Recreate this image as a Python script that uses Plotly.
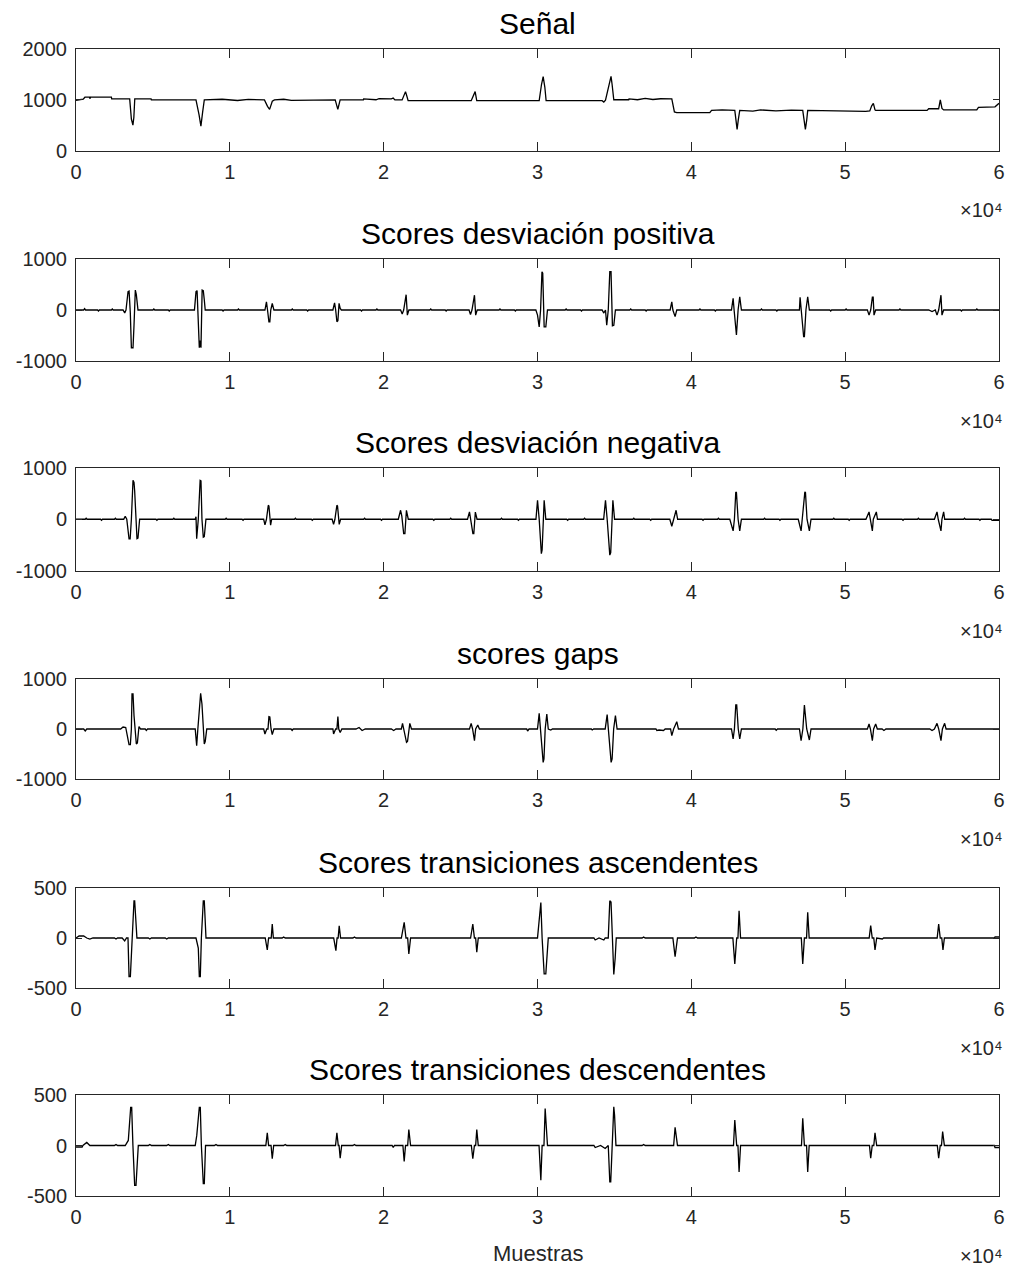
import plotly.graph_objects as go

# ---- data (sample index, value) ----
senal = [
    (0, 990), (470, 1010), (580, 1050), (880, 1050), (900, 1020), (950, 1050), (2300, 1050),
    (2320, 1016), (3490, 1016), (3600, 620), (3700, 500), (3760, 650), (3820, 1016),
    (4880, 1016), (4900, 996), (7800, 996), (8000, 700), (8120, 480), (8230, 750),
    (8340, 996), (9500, 1010), (10500, 985), (11200, 1008), (12250, 996), (12450, 870),
    (12585, 810), (12760, 970), (12900, 996), (13500, 1010), (14000, 986), (16850, 996),
    (17020, 810), (17170, 996), (18680, 996), (18700, 1016), (19500, 1000), (19700, 1020),
    (20500, 1016), (20620, 1035), (20730, 996), (21200, 996), (21330, 1100), (21420, 1160),
    (21500, 1080), (21590, 982), (25690, 982), (25840, 1100), (25946, 1160), (26050, 982),
    (30110, 982), (30260, 1300), (30368, 1457), (30476, 1250), (30560, 982), (34200, 982),
    (34312, 955), (34420, 990), (34700, 1350), (34780, 1460), (34850, 1300), (34959, 1000),
    (35930, 1000), (35950, 1016), (36500, 1000), (37000, 1025), (37500, 1005), (38000, 1020),
    (38730, 1016), (38900, 760), (39050, 745), (41200, 745), (41316, 790), (42000, 800),
    (42825, 790), (42900, 550), (42975, 415), (43050, 600), (43147, 790), (44000, 775),
    (44500, 800), (45500, 780), (46500, 795), (47242, 790), (47350, 550), (47414, 415),
    (47500, 600), (47565, 790), (51337, 770), (51600, 780), (51725, 880), (51833, 930),
    (51940, 800), (51983, 790), (55323, 790), (55431, 823), (56078, 823), (56185, 996),
    (56293, 830), (56401, 800), (58556, 800), (58664, 850), (59741, 860), (60000, 930),
]

desv_pos = [
    (0, 0), (500, 0), (560, 25), (620, 0), (1400, 0), (1460, -20), (1520, 0), (2300, 0), (2360, 20), (2420, 0),
    (3060, 0), (3167, -60), (3250, 0), (3383, 360), (3450, 370), (3530, -50), (3600, -740),
    (3706, -740), (3771, -300), (3815, 380), (3857, 390), (3922, 300), (4030, 0),
    (5000, 0), (5060, 20), (5120, 0), (6000, 0), (6060, -20), (6120, 0),
    (7700, 0), (7801, 360), (7870, 380), (7950, -300), (8016, -740), (8080, -600), (8124, -740),
    (8200, 390), (8275, 380), (8339, 200), (8400, 0),
    (9500, 0), (9560, -20), (9620, 0), (10500, 0), (10560, 20), (10620, 0),
    (12283, 0), (12380, 160), (12450, 0), (12541, -230), (12600, -230), (12660, 0), (12757, 130), (12865, 0),
    (14000, 0), (14060, 20), (14120, 0), (15000, 0), (15060, -20), (15120, 0),
    (16700, 0), (16808, 140), (16880, 0), (16959, -230), (17024, -210), (17100, 130), (17174, 30), (17250, 0),
    (18500, 0), (18560, -20), (18620, 0), (19500, 0), (19560, 20), (19620, 0),
    (21100, 0), (21205, -80), (21300, 0), (21420, 300), (21460, 300), (21540, -100), (21640, 0),
    (23000, 0), (23060, 20), (23120, 0), (24000, 0), (24060, -20), (24120, 0),
    (25550, 0), (25644, -90), (25740, 0), (25860, 290), (25903, 290), (25980, -100), (26080, 0),
    (27500, 0), (27560, 20), (27620, 0), (28500, 0), (28560, -20), (28620, 0),
    (29894, 0), (30002, -100), (30110, -330), (30200, 0), (30290, 750), (30340, 720), (30433, -330),
    (30541, -330), (30649, 0),
    (31800, 0), (31860, 20), (31920, 0), (32800, 0), (32860, -20), (32920, 0),
    (34200, 0), (34312, -60), (34420, 0), (34500, -300), (34600, 0), (34700, 750), (34780, 750),
    (34870, -310), (34960, -300), (35066, 0),
    (36000, 0), (36060, 20), (36120, 0), (37000, 0), (37060, -20), (37120, 0),
    (38622, 0), (38730, 160), (38800, 0), (38945, -130), (39053, 0),
    (40500, 0), (40560, 20), (40620, 0), (41500, 0), (41560, -20), (41620, 0),
    (42609, 0), (42717, 230), (42780, 0), (42889, -490), (42932, -490), (43040, 0), (43147, 260), (43255, 0),
    (44500, 0), (44560, 20), (44620, 0), (45500, 0), (45560, -20), (45620, 0),
    (47027, 0), (47070, 250), (47140, 0), (47300, -520), (47350, -520), (47450, 0), (47565, 260), (47673, 0),
    (49000, 0), (49060, -20), (49120, 0), (50000, 0), (50060, 20), (50120, 0),
    (51444, 0), (51552, -100), (51660, 0), (51768, 250), (51820, 250), (51875, -100), (51983, 0),
    (53500, 0), (53560, 20), (53620, 0), (55431, 0), (55650, -30), (55860, 0),
    (55970, -100), (56078, 0), (56185, 290), (56228, 290), (56293, -100), (56401, 0),
    (57500, 0), (57560, -20), (57620, 0), (58500, 0), (58560, 20), (58620, 0), (60000, 0),
]

desv_neg = [
    (0, 0), (600, 0), (660, 20), (720, 0), (1600, 0), (1660, -20), (1720, 0), (2500, 0), (2560, 20), (2620, 0),
    (3100, 0), (3200, 60), (3300, 0), (3447, -380), (3520, -380), (3600, 0), (3706, 760), (3771, 720),
    (3814, 550), (3880, 0), (3965, -380), (4029, -370), (4137, 0),
    (5200, 0), (5260, -20), (5320, 0), (6300, 0), (6360, 20), (6420, 0),
    (7750, 0), (7801, 50), (7844, -380), (7950, 0), (8070, 760), (8124, 750), (8188, 0),
    (8275, -350), (8340, -340), (8447, 0),
    (9700, 0), (9760, 20), (9820, 0), (10800, 0), (10860, -20), (10920, 0),
    (12200, 0), (12283, -110), (12380, 0), (12500, 273), (12541, 260), (12650, -117), (12720, 0),
    (14200, 0), (14260, 20), (14320, 0), (15300, 0), (15360, -20), (15420, 0),
    (16650, 0), (16744, -100), (16830, 0), (16959, 273), (17000, 260), (17110, -100), (17200, 0),
    (18700, 0), (18760, 20), (18820, 0), (19800, 0), (19860, -20), (19920, 0),
    (20950, 0), (21100, 175), (21180, 60), (21300, -280), (21380, -280), (21480, 175), (21600, 0),
    (23200, 0), (23260, -20), (23320, 0), (24300, 0), (24360, 20), (24420, 0),
    (25450, 0), (25579, 143), (25650, 0), (25800, -280), (25860, -280), (25960, 140), (26070, 0),
    (27600, 0), (27660, 20), (27720, 0), (28700, 0), (28760, -20), (28820, 0),
    (29900, 0), (30002, 370), (30110, 0), (30250, -670), (30300, -600), (30433, 370), (30541, 0),
    (31900, 0), (31960, -20), (32020, 0), (33000, 0), (33060, 20), (33120, 0),
    (34300, 0), (34420, 370), (34528, 0), (34700, -700), (34760, -650), (34900, 370), (35010, 0),
    (36200, 0), (36260, 20), (36320, 0), (37300, 0), (37360, -20), (37420, 0),
    (38600, 0), (38730, -137), (38850, 0), (39010, 175), (39110, 0),
    (40700, 0), (40760, -20), (40820, 0), (41700, 0), (41760, 20), (41820, 0),
    (42500, 0), (42717, -228), (42800, 0), (42889, 533), (42932, 520), (43040, 0), (43147, -228), (43255, 0),
    (44700, 0), (44760, 20), (44820, 0), (45700, 0), (45760, -20), (45820, 0),
    (46950, 0), (47135, -228), (47220, 0), (47380, 533), (47420, 520), (47520, 0), (47673, -228), (47781, 0),
    (49200, 0), (49260, 20), (49320, 0), (50200, 0), (50260, -20), (50320, 0),
    (51350, 0), (51552, 143), (51640, 0), (51768, -228), (51830, 0), (52026, 143), (52100, 0),
    (53700, 0), (53760, -20), (53820, 0), (54700, 0), (54760, 20), (54820, 0),
    (55800, 0), (55970, 143), (56050, 0), (56228, -228), (56290, 0), (56401, 143), (56470, 0),
    (57700, 0), (57760, 20), (57820, 0), (58700, 0), (58760, -20), (58820, 0),
    (59500, 0), (59550, -20), (60000, -20),
]

gaps = [
    (0, 0), (500, 0), (600, -40), (700, 0),
    (2900, 0), (3060, 40), (3232, 30), (3447, -313), (3534, -313), (3600, 0), (3641, 700), (3706, 700),
    (3771, 270), (3850, 0), (3922, -300), (3990, -280), (4094, 50), (4200, 0), (4500, 0), (4568, -30), (4650, 0),
    (7750, 0), (7844, -333), (7920, 0), (8102, 713), (8188, 500), (8260, 0), (8339, -300), (8400, -250), (8500, 0),
    (12200, 0), (12283, -100), (12400, 0), (12480, 0), (12541, 247), (12600, 240), (12680, 0), (12757, -113),
    (12865, 0), (13980, 0), (14050, -30), (14120, 0),
    (16700, 0), (16744, -100), (16880, 0), (16960, 0), (17024, 247), (17080, 0), (17174, -70), (17282, 0),
    (18200, 0), (18400, 30), (18600, -30), (18800, 0),
    (20500, 0), (20650, -30), (20800, 0), (21150, 0), (21226, 113), (21300, 0), (21485, -267), (21550, -250),
    (21650, 0), (21700, 113), (21808, 0),
    (25579, 0), (25687, 113), (25780, 0), (25903, -233), (25980, 0), (26118, 80), (26226, 0),
    (29300, 0), (29356, -40), (29450, 0), (30000, 0), (30110, 313), (30200, 0), (30368, -667), (30420, -600),
    (30500, 0), (30605, 300), (30700, 0), (30864, -20), (30972, 0),
    (33500, 0), (33558, -20), (33650, 0), (34400, 0), (34528, 287), (34620, 0), (34786, -667), (34850, -600),
    (34950, 0), (35066, 267), (35174, 0),
    (37700, 0), (37760, -30), (37900, -20), (38191, -30), (38300, 0), (38650, 0), (38730, -133), (38850, 0),
    (39053, 147), (39161, 0),
    (42609, 0), (42717, -200), (42800, 0), (42889, 480), (42950, 480), (43050, 0), (43147, -200), (43255, 0),
    (45450, 0), (45518, -25), (45600, 0),
    (47027, 0), (47135, -233), (47250, 0), (47350, 480), (47414, 300), (47500, 0), (47673, -220), (47781, 0),
    (51444, 0), (51552, 100), (51640, 0), (51768, -233), (51850, 0), (51983, 100), (52091, 0),
    (52400, 0), (52522, -30), (52650, 0),
    (55500, 0), (55647, -30), (55800, 0), (55970, 113), (56080, 0), (56228, -233), (56320, 0), (56466, 113),
    (56560, 0), (60000, 0),
]

trans_asc = [
    (0, 0), (200, 20), (500, 20), (700, 0), (900, -10), (1100, 0), (2500, 0), (2600, -10), (2700, 0),
    (3000, 0), (3167, -30), (3280, 0), (3380, 0), (3447, -385), (3534, -385), (3650, 0), (3770, 372), (3814, 372),
    (3900, 206), (3960, 0), (4700, 0), (4800, -10), (4900, 0), (5800, 0), (5900, -10), (6000, 0),
    (7800, 0), (7950, -100), (8016, -385), (8080, -385), (8150, 0), (8275, 372), (8339, 372), (8382, 206), (8450, 0),
    (12300, 0), (12434, -120), (12520, 0), (12690, 0), (12757, 140), (12830, 0), (13400, 0), (13500, 10), (13600, 0),
    (16750, 0), (16894, -126), (16970, 0), (17040, 0), (17110, 123), (17200, 0), (18000, 0), (18100, 10), (18200, 0),
    (21150, 0), (21334, 156), (21450, 0), (21560, 0), (21636, -160), (21750, 0),
    (25650, 0), (25795, 140), (25900, 0), (25980, 0), (26053, -143), (26150, 0),
    (30000, 0), (30218, 355), (30300, 0), (30433, -358), (30541, -358), (30605, -200), (30700, 0),
    (33666, 0), (33750, -20), (34000, 0), (34312, -20), (34400, 0), (34600, 0), (34700, 372), (34780, 360), (34870, 0),
    (34959, -365), (35050, -200), (35120, 0), (36800, 0), (36900, 10), (37000, 0),
    (38800, 0), (38945, -186), (39100, 0), (40200, 0), (40300, 10), (40400, 0),
    (42700, 0), (42825, -260), (42950, 0), (43030, 0), (43104, 272), (43200, 0),
    (47150, 0), (47242, -260), (47350, 0), (47490, 0), (47565, 256), (47660, 0),
    (51560, 0), (51660, 123), (51760, 0), (51860, 0), (51940, -120), (52050, 0), (52414, -10), (52500, 0),
    (55980, 0), (56078, 140), (56180, 0), (56280, 0), (56358, -120), (56450, 0),
    (59700, 0), (59741, 10), (60000, 10),
]

trans_desc = [
    (0, -15), (400, -15), (450, 0), (700, 30), (900, 0), (2500, 0), (2600, 10), (2700, 0),
    (3200, 0), (3400, 50), (3555, 377), (3620, 377), (3700, 0), (3814, -394), (3900, -394), (3965, -200), (4050, 0),
    (4700, 0), (4800, 10), (4900, 0), (5900, 0), (6000, 10), (6100, 0),
    (7750, 0), (7850, 100), (8016, 377), (8080, 377), (8150, 0), (8275, -377), (8340, -377), (8420, 0),
    (9000, 0), (9100, 10), (9200, 0),
    (12340, 0), (12434, 125), (12520, 0), (12680, 0), (12757, -131), (12850, 0), (13500, 0), (13600, 10), (13700, 0),
    (16870, 0), (16959, 125), (17050, 0), (17100, 0), (17174, -125), (17270, 0), (18000, 0), (18100, 10), (18200, 0),
    (20550, 0), (20623, -20), (20700, 0), (21250, 0), (21334, -157), (21420, 0), (21560, 0), (21636, 157), (21750, 0),
    (25700, 0), (25795, -131), (25900, 0), (25980, 0), (26053, 157), (26150, 0),
    (30100, 0), (30218, -344), (30300, 0), (30420, 0), (30498, 367), (30560, 200), (30649, 0),
    (33666, 0), (33750, -20), (34100, 0), (34400, -30), (34600, 0), (34700, -360), (34760, -360), (34850, 0),
    (34959, 384), (35010, 300), (35100, 0), (36800, 0), (36900, 10), (37000, 0),
    (38850, 0), (38945, 180), (39100, 0),
    (42740, 0), (42825, 253), (42950, 0), (43030, 0), (43104, -262), (43200, 0),
    (47160, 0), (47242, 269), (47350, 0), (47490, 0), (47565, -262), (47660, 0),
    (51580, 0), (51660, -125), (51760, 0), (51860, 0), (51940, 125), (52050, 0),
    (55990, 0), (56078, -125), (56180, 0), (56260, 0), (56336, 138), (56450, 0),
    (59700, 0), (59741, -20), (60000, -20),
]

titles = ["Señal", "Scores desviación positiva", "Scores desviación negativa", "scores gaps",
          "Scores transiciones ascendentes", "Scores transiciones descendentes"]
series = [senal, desv_pos, desv_neg, gaps, trans_asc, trans_desc]
y_ranges = [(0, 2000), (-1000, 1000), (-1000, 1000), (-1000, 1000), (-500, 500), (-500, 500)]
y_ticks = [[0, 1000, 2000], [-1000, 0, 1000], [-1000, 0, 1000], [-1000, 0, 1000],
           [-500, 0, 500], [-500, 0, 500]]
x_ticks = [0, 10000, 20000, 30000, 40000, 50000, 60000]
x_ticklabels = ["0", "1", "2", "3", "4", "5", "6"]

# ---- layout geometry (pixels) ----
W, H = 1013, 1267
ML, MR, MT, MB = 76, 8, 49, 71
tops = [49, 259, 468, 679, 888, 1095]
bottoms = [150.5, 361, 570.5, 779, 988, 1196]
plot_h = H - MT - MB

FONT = "Liberation Sans, Arial, Helvetica, sans-serif"
AX = "#262626"

fig = go.Figure()
layout = dict(
    width=W, height=H,
    margin=dict(l=ML, r=MR, t=MT, b=MB, pad=0),
    paper_bgcolor="white", plot_bgcolor="white",
    showlegend=False,
    font=dict(family=FONT, size=20, color=AX),
)
annotations = []

for i, data in enumerate(series):
    n = "" if i == 0 else str(i + 1)
    xs = [p[0] for p in data]
    ys = [p[1] for p in data]
    fig.add_trace(go.Scatter(x=xs, y=ys, mode="lines", xaxis="x" + n, yaxis="y" + n,
                             line=dict(color="black", width=1.3), hoverinfo="skip"))
    y0 = (H - MB - bottoms[i]) / plot_h
    y1 = (H - MB - tops[i]) / plot_h
    layout["xaxis" + n] = dict(
        domain=[0, 1], anchor="y" + n, range=[0, 60000],
        tickvals=x_ticks, ticktext=x_ticklabels,
        ticks="inside", ticklen=9, tickwidth=1, tickcolor=AX,
        showline=True, linecolor=AX, linewidth=1, mirror="ticks",
        showgrid=False, zeroline=False, ticklabelstandoff=3,
        tickfont=dict(family=FONT, size=20, color=AX),
    )
    layout["yaxis" + n] = dict(
        domain=[y0, y1], anchor="x" + n, range=list(y_ranges[i]),
        tickvals=y_ticks[i], ticktext=[str(v) for v in y_ticks[i]],
        ticks="inside", ticklen=6, tickwidth=1, tickcolor=AX,
        showline=True, linecolor=AX, linewidth=1, mirror="ticks",
        showgrid=False, zeroline=False, ticklabelstandoff=4,
        tickfont=dict(family=FONT, size=20, color=AX),
    )
    annotations.append(dict(
        text=titles[i], xref="paper", yref="paper", x=0.5, y=y1,
        xanchor="center", yanchor="bottom", yshift=7, showarrow=False,
        font=dict(family=FONT, size=30, color="black"),
    ))
    annotations.append(dict(
        text="×10⁴", xref="paper", yref="paper", x=1.0, y=y0,
        xanchor="right", yanchor="middle", yshift=-60, xshift=6, showarrow=False,
        font=dict(family=FONT, size=20, color=AX),
    ))

annotations.append(dict(
    text="Muestras", xref="paper", yref="paper", x=0.5, y=0,
    xanchor="center", yanchor="middle", yshift=-57, showarrow=False,
    font=dict(family=FONT, size=22, color=AX),
))
layout["annotations"] = annotations
fig.update_layout(**layout)
fig.write_html("out.html")
